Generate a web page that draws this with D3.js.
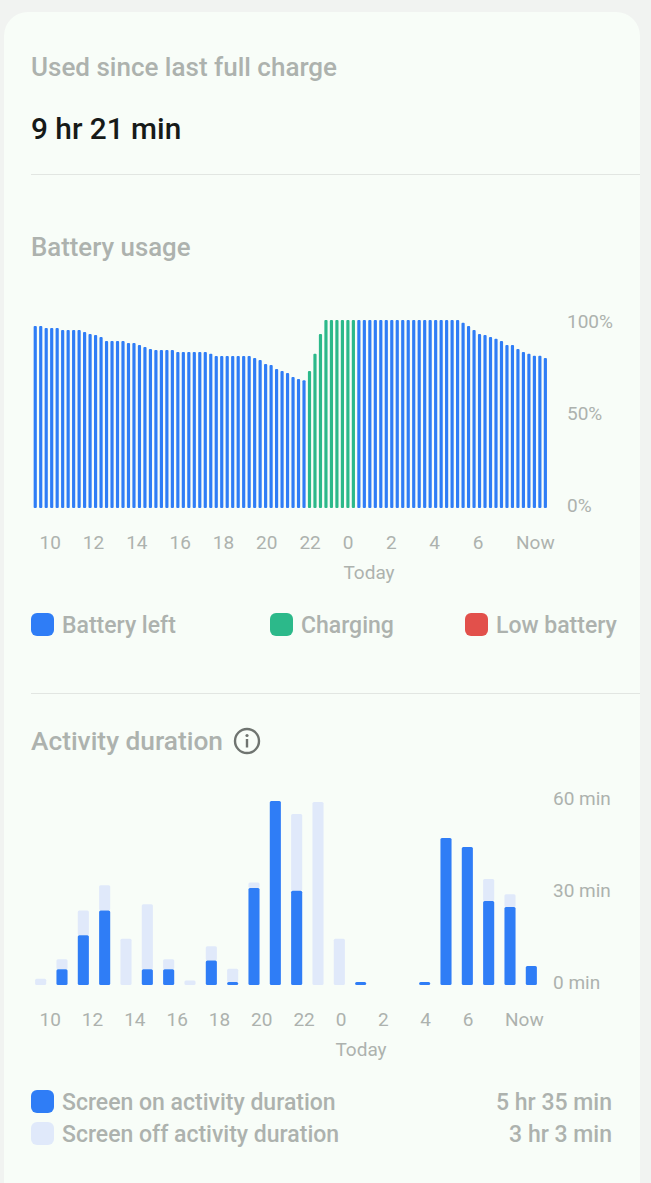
<!DOCTYPE html>
<html><head><meta charset="utf-8">
<script src="https://cdn.jsdelivr.net/npm/d3@7"></script>
<style>html,body{margin:0;padding:0;background:#f1f3f1;overflow:hidden}text{font-family:Roboto,sans-serif}</style>
</head><body><svg id="c" width="651" height="1183"></svg>
<script>
// ---- data ----
const batteryLevels = [96.8,96.8,95.7,95.7,95.7,94.7,94.7,94.7,94.7,93.6,92.6,92,91,88.8,88.8,88.8,88.8,87.8,87.8,86.7,85.6,84.6,84,84,84,84,83,83,83,83,83,83,82,80.9,80.9,80.9,80.9,80.9,80.9,80.9,79.8,78.7,76.6,76,73.9,72.9,71.8,69.7,68.6,68,
  72.9,82,92.6,100,100,100,100,100,100,
  100,100,100,100,100,100,100,100,100,100,100,100,100,100,100,100,100,100,100,
  98.5,96.8,94.7,92.6,92,91,90,88.8,86.7,86.7,84.6,83,82,81,81,79.8];
const chargingStart = 50, chargingEnd = 59;
const batteryTicks = ["10","12","14","16","18","20","22","0","2","4","6","Now"];
const batteryAxisValues = [100,50,0];
const activityHours = ["10","11","12","13","14","15","16","17","18","19","20","21","22","23","0","1","2","3","4","5","6","7","8","9"];
const screenOn  = [0,5.1,16.2,24.3,0,5.1,5.1,0,8,1,31.6,60,30.7,0,0,1,0,0,1,47.9,45,27.4,25.4,6.2];
const screenOff = [2,3.3,8.1,8.2,15.1,21.2,3.3,1.5,4.6,4.3,1.8,0,25.1,59.7,15.1,0,0,0,0,0,0,7.2,4.2,0];
const activityTicks = ["10","12","14","16","18","20","22","0","2","4","6","Now"];
const activityAxisValues = [60,30,0];
const batteryLegend = [["Battery left","#2f7df6"],["Charging","#2cb98a"],["Low battery","#e2504b"]];
const activityLegend = [["Screen on activity duration","#2f7df6","5 hr 35 min"],["Screen off activity duration","#e0e9fa","3 hr 3 min"]];

// ---- styles ----
const GREY="#adb2ae", BLUE="#2f7df6", GREEN="#2cb98a", LIGHT="#e0e9fa", RULE="#e2e6e2";
const svg=d3.select("#c");
svg.append("rect").attr("x",4).attr("y",12).attr("width",636).attr("height",1200).attr("rx",24).attr("fill","#f8fdf8");

function label(x,y,t,size,fill,weight,anchor){
  return svg.append("text").attr("x",x).attr("y",y).attr("font-size",size).attr("fill",fill)
    .attr("font-weight",weight||400).attr("text-anchor",anchor||"start").text(t);
}
function rule(y){svg.append("rect").attr("x",31).attr("y",y).attr("width",609).attr("height",1).attr("fill",RULE);}

label(31,76,"Used since last full charge",26,GREY,500);
label(31,139,"9 hr 21 min",29.8,"#161a18",500);
rule(174);
label(31,256,"Battery usage",25.8,GREY,500);
rule(693);
label(31,750,"Activity duration",26.3,GREY,500);

// info icon
const info=svg.append("g").attr("transform","translate(247,741)");
info.append("circle").attr("r",12).attr("fill","none").attr("stroke","#6f7470").attr("stroke-width",2.4);
info.append("circle").attr("cy",-5.5).attr("r",1.6).attr("fill","#6f7470");
info.append("rect").attr("x",-1.2).attr("y",-2).attr("width",2.4).attr("height",8.5).attr("fill","#6f7470");

// ---- battery chart ----
const bx=d3.scaleBand().domain(d3.range(batteryLevels.length)).range([33.1,547.5]).paddingInner(0.42).paddingOuter(0.1);
const by=d3.scaleLinear().domain([0,100]).range([508,320]);
svg.append("g").selectAll("rect").data(batteryLevels).join("rect")
  .attr("x",(d,i)=>bx(i)).attr("y",d=>by(d)).attr("width",bx.bandwidth()).attr("height",d=>by(0)-by(d))
  .attr("rx",1).attr("fill",(d,i)=>i>=chargingStart&&i<chargingEnd?GREEN:BLUE);

function tickRow(ticks,x0,x1,y){
  const sc=d3.scalePoint().domain(ticks).range([x0,x1]);
  const g=svg.append("g").attr("transform",`translate(0,${y})`).call(d3.axisBottom(sc).tickSize(0).tickPadding(0));
  g.select(".domain").remove();
  g.selectAll("text").attr("text-anchor","start").attr("font-size",19).attr("fill",GREY).attr("font-family","Roboto,sans-serif").attr("dy",0).attr("y",0);
}
function valueRow(values,domain,range,x,fmt){
  const sc=d3.scaleLinear().domain(domain).range(range);
  const g=svg.append("g").attr("transform",`translate(${x},0)`).call(d3.axisRight(sc).tickValues(values).tickSize(0).tickPadding(0).tickFormat(fmt));
  g.select(".domain").remove();
  g.selectAll("text").attr("text-anchor","start").attr("font-size",19).attr("fill",GREY).attr("font-family","Roboto,sans-serif").attr("dy",0);
}
tickRow(batteryTicks,39,515.5,549);
label(369,579,"Today",19,GREY,400,"middle");
valueRow(batteryAxisValues,[0,100],[511,327],567,d=>d+"%");

batteryLegend.forEach((d,i)=>{
  const xs=[31,270,465][i];
  svg.append("rect").attr("x",xs).attr("y",613).attr("width",23).attr("height",23).attr("rx",6).attr("fill",d[1]);
  label(xs+31,633,d[0],23,GREY,500);
});

// ---- activity chart ----
const ax=d3.scaleBand().domain(activityHours).range([30,542]).paddingInner(0.48).paddingOuter(0.24);
const ay=d3.scaleLinear().domain([0,60]).range([985,801]);
const rows=activityHours.map((h,i)=>({h,on:screenOn[i],off:screenOff[i]}));
const stacked=d3.stack().keys(["off","on"]).order((s)=>[1,0])(rows);
stacked.forEach(s=>{
  svg.append("g").selectAll("rect").data(s.filter(d=>d[1]>d[0])).join("rect")
    .attr("x",d=>ax(d.data.h)).attr("y",d=>ay(d[1])).attr("width",ax.bandwidth())
    .attr("height",d=>ay(d[0])-ay(d[1])).attr("rx",1.5)
    .attr("fill",s.key==="on"?BLUE:LIGHT);
});
tickRow(activityTicks,39,504.5,1026);
label(361,1056,"Today",19,GREY,400,"middle");
valueRow(activityAxisValues,[0,60],[988,804],553,d=>d+" min");

activityLegend.forEach((d,i)=>{
  const y=1090+i*32;
  svg.append("rect").attr("x",31).attr("y",y).attr("width",23).attr("height",23).attr("rx",6).attr("fill",d[1]);
  label(62,y+20,d[0],23,GREY,500);
  label(612,y+20,d[2],23,GREY,500,"end");
});
</script></body></html>
